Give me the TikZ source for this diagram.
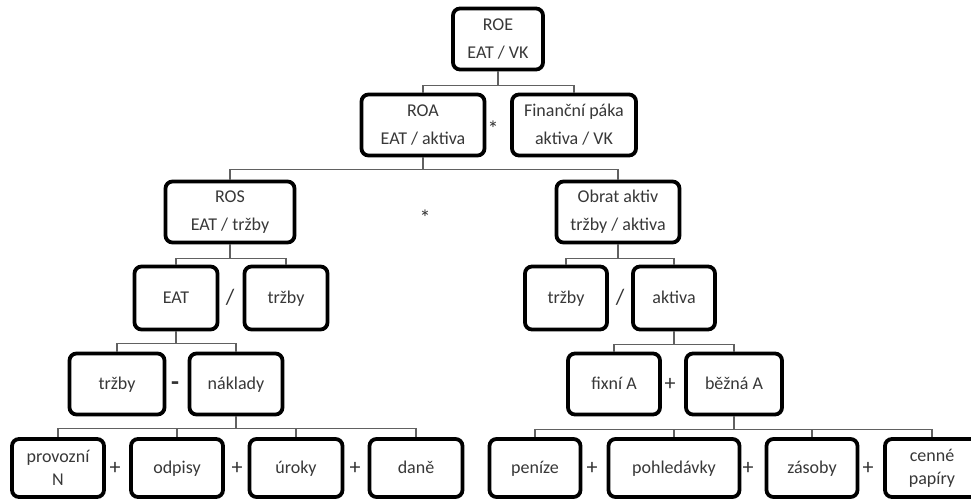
\documentclass[tikz,border=0pt]{standalone}
\usepackage{fontspec}
\setmainfont{Carlito}
\tikzset{
    box/.style={draw=black, line width=1.9pt, rounded corners=3.5pt, align=center,
        text=black!78, inner sep=0pt, minimum height=30.5pt, font=\fontsize{9}{14}\selectfont},
    boxw/.style={minimum width=#1*0.5pt},
    oneline/.style={text height=1.55ex, text depth=0.45ex},
    tight/.style={font=\fontsize{9}{11.5}\selectfont},
    conn/.style={draw=black!62, line width=0.9pt},
    op/.style={text=black!80, font=\fontsize{11}{12}\selectfont, inner sep=0pt}
}
\begin{document}
\begin{tikzpicture}[x=0.5pt, y=-0.5pt]
            \clip (0,0) rectangle (971,500);
            \fill[white] (0,0) rectangle (971,500);

            \node[box, boxw=90] (roe) at (498,39) {ROE\\EAT / VK};
            \node[box, boxw=123] (roa) at (423,125) {ROA\\EAT / aktiva};
            \node[box, boxw=124] (paka) at (574,125) {Finanční páka\\aktiva / VK};
            \node[op] (krat1) at (493,129) {*};

            \node[box, boxw=129] (ros) at (230,212) {ROS\\EAT / tržby};
            \node[box, boxw=123] (obrat) at (618,212) {Obrat aktiv\\tržby / aktiva};
            \node[op] (krat2) at (425,218) {*};

            \node[box, oneline, boxw=83, minimum height=31.5pt] (eat) at (176,298) {EAT};
            \node[box, oneline, boxw=83, minimum height=31.5pt] (trzbyA) at (286,298) {tržby};
            \node[op] (del1) at (230,297) {/};
            \node[box, oneline, boxw=82, minimum height=31.5pt] (trzbyB) at (566,298) {tržby};
            \node[box, oneline, boxw=82, minimum height=31.5pt] (aktiva) at (674,298) {aktiva};
            \node[op] (del2) at (620,297) {/};

            \node[box, oneline, boxw=95] (trzbyC) at (117,384) {tržby};
            \node[box, oneline, boxw=93] (naklady) at (236,384) {náklady};
            \node[op, font=\fontsize{13}{14}\selectfont\bfseries] (minus) at (175,386) {-};
            \node[box, oneline, boxw=92] (fixni) at (614,384) {fixní A};
            \node[box, oneline, boxw=96] (bezna) at (734,384) {běžná A};
            \node[op] (plus0) at (670,384) {+};

            \node[box, tight, boxw=92, minimum height=29pt] (provozni) at (58,468) {provozní\\N};
            \node[box, oneline, boxw=92, minimum height=29pt] (odpisy) at (177,468) {odpisy};
            \node[box, oneline, boxw=93, minimum height=29pt] (uroky) at (296,468) {úroky};
            \node[box, oneline, boxw=93, minimum height=29pt] (dane) at (416,468) {daně};
            \node[op] (plus1) at (115,468) {+};
            \node[op] (plus2) at (237,468) {+};
            \node[op] (plus3) at (355,468) {+};

            \node[box, oneline, boxw=91, minimum height=29pt] (penize) at (535,468) {peníze};
            \node[box, oneline, boxw=131, minimum height=29pt] (pohledavky) at (674,468) {pohledávky};
            \node[box, oneline, boxw=91, minimum height=29pt] (zasoby) at (812,468) {zásoby};
            \node[box, tight, boxw=94, minimum height=29pt] (cenne) at (932,468) {cenné\\papíry};
            \node[op] (plus4) at (592,468) {+};
            \node[op] (plus5) at (748,468) {+};
            \node[op] (plus6) at (868,468) {+};

            \foreach \c in {roa,paka} \draw[conn] (roe.south) -- ++(0,14) -| (\c.north);
            \foreach \c in {ros,obrat} \draw[conn] (roa.south) -- ++(0,12) -| (\c.north);
            \foreach \c in {eat,trzbyA} \draw[conn] (ros.south) -- ++(0,14) -| (\c.north);
            \foreach \c in {trzbyB,aktiva} \draw[conn] (obrat.south) -- ++(0,14) -| (\c.north);
            \foreach \c in {trzbyC,naklady} \draw[conn] (eat.south) -- ++(0,12) -| (\c.north);
            \foreach \c in {fixni,bezna} \draw[conn] (aktiva.south) -- ++(0,13) -| (\c.north);
            \foreach \c in {provozni,odpisy,uroky,dane} \draw[conn] (naklady.south) -- ++(0,12) -| (\c.north);
            \foreach \c in {penize,pohledavky,zasoby,cenne} \draw[conn] (bezna.south) -- ++(0,13) -| (\c.north);
        \end{tikzpicture}
\end{document}
